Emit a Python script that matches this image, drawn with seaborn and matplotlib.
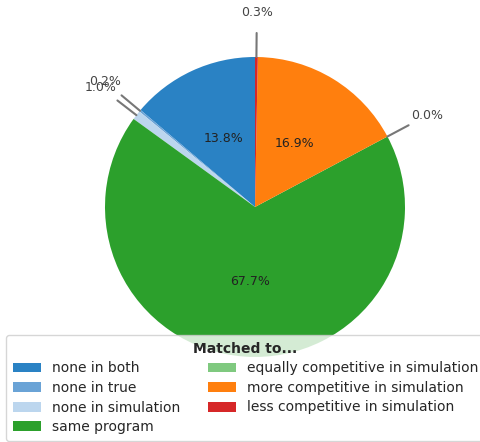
import numpy as np
import matplotlib
matplotlib.use("Agg")
import matplotlib.pyplot as plt
import seaborn as sns

sns.set_style("white")
plt.rcParams['font.family'] = ['DejaVu Sans']

categories = ["none in both", "none in true", "none in simulation", "same program",
              "equally competitive in simulation", "more competitive in simulation",
              "less competitive in simulation"]
values = [13.8, 0.2, 1.0, 67.7, 0.0, 16.9, 0.3]
colors = ["#2a82c4", "#6aa3d6", "#bcd6ee", "#2ca02c", "#7fc97f", "#ff7f0e", "#d62728"]
palette = sns.color_palette(colors)

fig = plt.figure(figsize=(4.8, 4.42), dpi=100)
ax = fig.add_axes([0, 0, 1, 1])

wedges, _ = ax.pie(values, colors=palette, startangle=90, counterclock=True,
                   radius=1.0, wedgeprops=dict(linewidth=0))

for w, v in zip(wedges, values):
    mid = np.deg2rad((w.theta1 + w.theta2) / 2)
    c, s = np.cos(mid), np.sin(mid)
    lab = f"{v:.1f}%"
    if v >= 5:
        ax.text(0.5 * c, 0.5 * s, lab, ha="center", va="center", fontsize=9, color="#222222")
    else:
        ax.plot([1.0 * c, 1.16 * c], [1.0 * s, 1.16 * s], color="#777777", lw=1.5)
        ax.text(1.3 * c, 1.3 * s, lab, ha="center", va="center", fontsize=9, color="#444444")

ax.set_xlim(-1.7, 1.5)
ax.set_ylim(-1.567, 1.38)
ax.set_aspect("auto")
ax.axis("off")

leg = fig.legend(wedges, categories, title="Matched to...", ncol=2, loc="lower left",
                 bbox_to_anchor=(6 / 480, 1 / 442), fontsize=10,
                 title_fontproperties={"weight": "bold", "size": 10},
                 columnspacing=2.0, handletextpad=0.8, borderaxespad=0.0, labelspacing=0.4,
                 borderpad=0.5)

fig.savefig("out.png", dpi=100)
